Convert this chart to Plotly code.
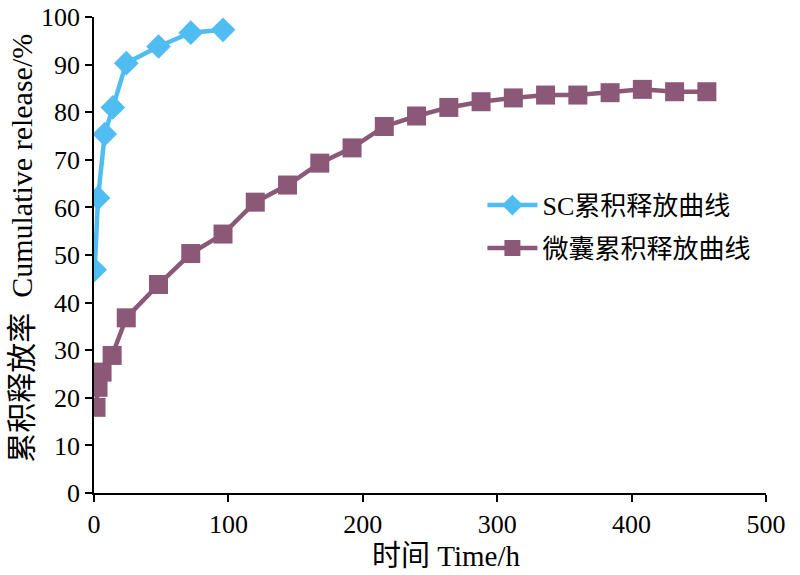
import plotly.graph_objects as go

# SC cumulative release
sc_time = [0.5, 3, 8, 14, 24, 48, 72, 96]
sc_release = [46.9, 62.0, 75.4, 81.0, 90.3, 93.8, 96.7, 97.3]

# Microcapsule cumulative release
mc_time = [1.5, 3, 6, 13.5, 24, 48, 72, 96, 120, 144, 168, 192, 216, 240,
           264, 288, 312, 336, 360, 384, 408, 432, 456]
mc_release = [18.0, 22.2, 25.4, 28.9, 36.8, 43.8, 50.3, 54.4, 61.1, 64.7,
              69.3, 72.5, 77.0, 79.2, 81.0, 82.2, 83.0, 83.6, 83.6, 84.1,
              84.8, 84.3, 84.3]

sc_name = "SC累积释放曲线"
mc_name = "微囊累积释放曲线"
x_title = "时间 Time/h"
y_title = "累积释放率\u00a0\u00a0Cumulative release/%"
x_ticks = [0, 100, 200, 300, 400, 500]
y_ticks = [0, 10, 20, 30, 40, 50, 60, 70, 80, 90, 100]

FONT = "Liberation Serif, Times New Roman, Noto Sans CJK SC, serif"
BLUE = "#4FBDF2"
PURPLE = "#8B5878"

fig = go.Figure()
fig.add_trace(go.Scatter(
    x=sc_time, y=sc_release, name=sc_name, mode="lines+markers",
    legendgroup="a",
    line=dict(color=BLUE, width=4.5),
    marker=dict(symbol="diamond", size=19, color=BLUE),
))
fig.add_trace(go.Scatter(
    x=mc_time, y=mc_release, name=mc_name, mode="lines+markers",
    legendgroup="b",
    line=dict(color=PURPLE, width=4.5),
    marker=dict(symbol="square", size=19, color=PURPLE),
))

fig.update_layout(
    width=800, height=575,
    margin=dict(l=93.5, r=34.3, t=16.7, b=82.3),
    paper_bgcolor="white", plot_bgcolor="white",
    font=dict(family=FONT, size=26, color="black"),
    showlegend=True,
    legend=dict(
        x=0.578, y=0.654, xanchor="left", yanchor="top",
        font=dict(family=FONT, size=26, color="black"),
        bgcolor="rgba(0,0,0,0)", traceorder="grouped", tracegroupgap=6,
        itemwidth=50,
    ),
    xaxis=dict(
        range=[0, 500], tickvals=x_ticks, ticks="outside", ticklen=7,
        tickwidth=1.5, tickcolor="black", showline=True, linecolor="black",
        linewidth=1.5, showgrid=False, zeroline=False, automargin=False,
        ticklabeloverflow="allow",
        tickfont=dict(family=FONT, size=26),
    ),
    yaxis=dict(
        range=[0, 100], tickvals=y_ticks, ticks="outside", ticklen=7,
        tickwidth=1.5, tickcolor="black", showline=True, linecolor="black",
        linewidth=1.5, showgrid=False, zeroline=False, automargin=False,
        ticklabeloverflow="allow",
        tickfont=dict(family=FONT, size=26),
    ),
)

fig.add_annotation(
    text=x_title, xref="paper", yref="paper", x=(446 - 93.5) / 672.2,
    y=-0.133, xanchor="center", yanchor="middle", showarrow=False,
    font=dict(family=FONT, size=29),
)
fig.add_annotation(
    text=y_title, xref="paper", yref="paper", x=(21 - 93.5) / 672.2,
    y=(492.7 - 248) / 476, xanchor="center", yanchor="middle",
    showarrow=False, textangle=-90,
    font=dict(family=FONT, size=30),
)

fig.write_html(
    "out.html",
    config={"displayModeBar": False},
    post_script="document.body.style.margin='0';",
)
